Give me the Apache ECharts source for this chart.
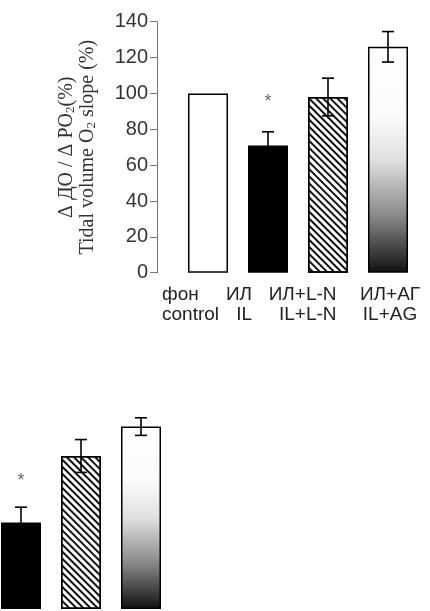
<!DOCTYPE html>
<html>
<head>
<meta charset="utf-8">
<script src="https://cdn.jsdelivr.net/npm/echarts@6/dist/echarts.min.js"></script>
<style>
  html, body { margin: 0; padding: 0; background: #fff; }
  #main { width: 430px; height: 611px; }
</style>
</head>
<body>
<div id="main"></div>
<script>
// categories and values
const categories = ['control', 'IL', 'IL+L-N', 'IL+AG'];
const labelsRu = ['фон', 'ИЛ', 'ИЛ+L-N', 'ИЛ+АГ'];
const labelsEn = ['control', 'IL', 'IL+L-N', 'IL+AG'];
const yTicks = [0, 20, 40, 60, 80, 100, 120, 140];

// upper panel
const topMeans = [100, 71, 98, 126];
const topErr = [0, 7.6, 10.5, 8.5];
const topStar = [null, 95, null, null];

// lower (cropped) panel
const bottomMeans = [100, 58, 102.5, 122.2];
const bottomErr = [0, 10.2, 11, 5.9];
const bottomStar = [null, 86, null, null];

const chart = echarts.init(document.getElementById('main'));

// bar looks: white, black, hatched, gradient
const barStyles = [
  { color: '#fff' },
  { color: '#000' },
  {
    color: '#fff',
    decal: {
      symbol: 'rect',
      color: '#111',
      dashArrayX: [1, 0],
      dashArrayY: [1.1, 2.6],
      rotation: Math.PI / 4
    }
  },
  {
    color: new echarts.graphic.LinearGradient(0, 0, 0, 1, [
      { offset: 0, color: '#ffffff' },
      { offset: 0.3, color: '#fbfbfb' },
      { offset: 0.5, color: '#e0e0e0' },
      { offset: 0.75, color: '#888888' },
      { offset: 1, color: '#111111' }
    ])
  }
];

const barData = (means) => means.map((v, i) => ({
  value: v,
  itemStyle: Object.assign({ borderColor: '#000', borderWidth: 1.5 }, barStyles[i])
}));

const errData = (means, errs) => means
  .map((v, i) => [i, v - errs[i], v + errs[i]])
  .filter((d, i) => errs[i] > 0);

const errRender = (params, api) => {
  const lo = api.coord([api.value(0), api.value(1)]);
  const hi = api.coord([api.value(0), api.value(2)]);
  const cap = 6;
  const st = { stroke: '#000', lineWidth: 1.6 };
  return {
    type: 'group',
    children: [
      { type: 'line', shape: { x1: hi[0], y1: hi[1], x2: lo[0], y2: lo[1] }, style: st },
      { type: 'line', shape: { x1: hi[0] - cap, y1: hi[1], x2: hi[0] + cap, y2: hi[1] }, style: st },
      { type: 'line', shape: { x1: lo[0] - cap, y1: lo[1], x2: lo[0] + cap, y2: lo[1] }, style: st }
    ]
  };
};

const starSeries = (data, idx) => ({
  type: 'scatter',
  xAxisIndex: idx,
  yAxisIndex: idx,
  symbolSize: 0,
  silent: true,
  data: data,
  label: {
    show: true,
    position: 'inside',
    formatter: '*',
    fontFamily: 'Liberation Sans',
    fontSize: 18,
    color: '#444'
  }
});

const option = {
  animation: false,
  backgroundColor: '#fff',
  grid: [
    { left: 178, width: 240, top: 21.7, height: 251, outerBoundsMode: 'none' },
    { left: -69, width: 240, top: 400, height: 209, outerBoundsMode: 'none' }
  ],
  xAxis: [
    {
      type: 'category',
      gridIndex: 0,
      data: categories,
      axisLine: { show: false },
      axisTick: { show: false },
      axisLabel: { show: false }
    },
    {
      type: 'category',
      gridIndex: 1,
      data: categories,
      show: false
    }
  ],
  yAxis: [
    {
      type: 'value',
      gridIndex: 0,
      min: 0,
      max: 140,
      interval: 20,
      offset: 21,
      splitLine: { show: false },
      axisLine: { show: true, lineStyle: { color: '#777', width: 1 } },
      axisTick: { show: true, length: 7, lineStyle: { color: '#777' } },
      axisLabel: {
        margin: 9,
        fontFamily: 'Liberation Sans',
        fontSize: 20,
        color: '#333',
        formatter: (v) => (yTicks.includes(v) ? String(v) : '')
      },
      name: '{t|Δ ДО / Δ PO}{s|2}{t|(%)}\n{t|Tidal volume O}{s|2}{t| slope (%)}',
      nameLocation: 'middle',
      nameRotate: 90,
      nameGap: 59,
      nameTextStyle: {
        color: '#333',
        fontFamily: 'Liberation Serif',
        fontSize: 20,
        lineHeight: 21,
        rich: {
          t: { fontFamily: 'Liberation Serif', fontSize: 20, lineHeight: 21, color: '#333' },
          s: { fontFamily: 'Liberation Serif', fontSize: 13, lineHeight: 12, verticalAlign: 'bottom', color: '#333' }
        }
      }
    },
    {
      type: 'value',
      gridIndex: 1,
      min: 0,
      max: 140,
      show: false,
      splitLine: { show: false }
    }
  ],
  series: [
    {
      type: 'bar',
      xAxisIndex: 0,
      yAxisIndex: 0,
      barWidth: 40,
      data: barData(topMeans)
    },
    {
      type: 'custom',
      xAxisIndex: 0,
      yAxisIndex: 0,
      renderItem: errRender,
      data: errData(topMeans, topErr),
      z: 5
    },
    starSeries(topStar, 0),
    {
      type: 'bar',
      xAxisIndex: 1,
      yAxisIndex: 1,
      barWidth: 40,
      data: barData(bottomMeans)
    },
    {
      type: 'custom',
      xAxisIndex: 1,
      yAxisIndex: 1,
      renderItem: errRender,
      data: errData(bottomMeans, bottomErr),
      z: 5
    },
    starSeries(bottomStar, 1)
  ]
};

chart.setOption(option);

// category labels under the upper panel, two rows, placed from the axis positions
const labelAlign = ['left', 'right', 'right', 'center'];
const labelShift = [-46, -16, 8.5, 2];
const graphics = [];
categories.forEach((c, i) => {
  const p = chart.convertToPixel({ xAxisIndex: 0, yAxisIndex: 0 }, [c, 0]);
  [labelsRu[i], labelsEn[i]].forEach((txt, row) => {
    graphics.push({
      type: 'text',
      x: p[0] + labelShift[i],
      y: p[1] + 22 + row * 20,
      style: {
        text: txt,
        fontFamily: 'Liberation Sans',
        fontSize: 19,
        fill: '#222',
        align: labelAlign[i],
        verticalAlign: 'middle'
      }
    });
  });
});
chart.setOption({ graphic: graphics });
</script>
</body>
</html>
